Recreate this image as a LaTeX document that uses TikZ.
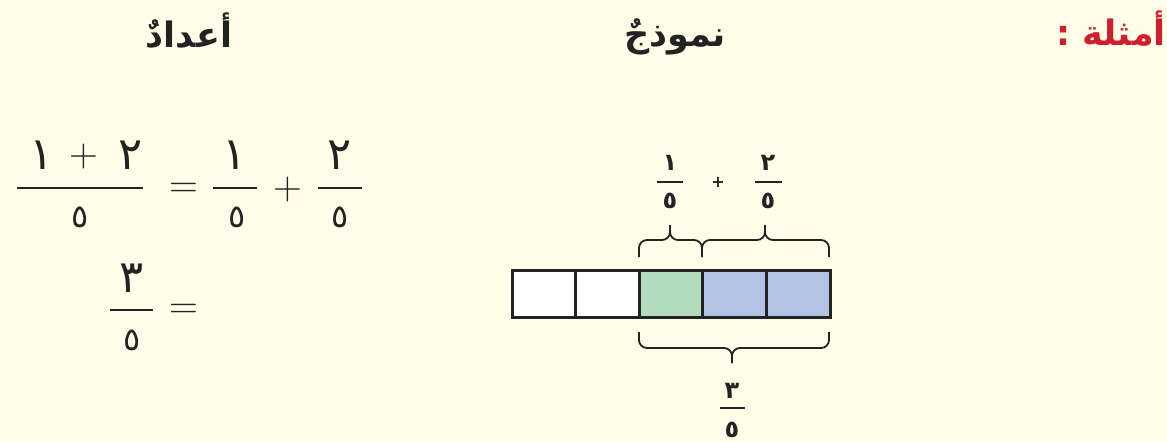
\documentclass[tikz,border=0pt]{standalone}
\usepackage{fontspec}
\newfontfamily\arabicfont[Script=Arabic]{DejaVu Sans}
\TeXXeTstate=1
\definecolor{bgc}{RGB}{255,253,232}
\definecolor{ink}{RGB}{35,35,35}
\definecolor{redh}{RGB}{208,30,45}
\definecolor{greenc}{RGB}{178,220,190}
\definecolor{bluec}{RGB}{180,194,230}
\begin{document}
\begin{tikzpicture}[x=1pt,y=-1pt,
  head/.style={font=\arabicfont\bfseries\fontsize{35}{38}\selectfont, inner sep=0, anchor=base, text=ink},
  bigd/.style={font=\arabicfont\fontsize{45}{50}\selectfont, inner sep=0, text=ink},
  bigf/.style={font=\arabicfont\fontsize{32}{36}\selectfont, inner sep=0, text=ink},
  smalld/.style={font=\arabicfont\bfseries\fontsize{24}{28}\selectfont, inner sep=0, text=ink},
  sym/.style={font=\fontsize{40}{44}\selectfont, inner sep=0, text=ink},
  ssym/.style={font=\arabicfont\bfseries\fontsize{16}{18}\selectfont, inner sep=0, text=ink},
  fbar/.style={draw=ink, line width=2.6pt},
  sbar/.style={draw=ink, line width=2.2pt},
  cell/.style={draw=ink, line width=3pt, minimum width=63.6pt, minimum height=47pt, inner sep=0},
  brace/.style={draw=ink, line width=1.8pt, rounded corners=8pt}
]
\useasboundingbox[fill=bgc] (0,0) rectangle (1167,442);

% headings
\node[head] (h1) at (189,47) {\beginR أعدادٌ\endR};
\node[head] (h2) at (675,46) {\beginR نموذجٌ\endR};
\node[head, anchor=base east, text=redh] (h3) at (1166,45) {\beginR أمثلة :\endR};

% equation line 1
\node[bigd] (n1a) at (42,155) {١};
\node[sym] (p1) at (84,157) {+};
\node[bigd] (n1b) at (131,155) {٢};
\draw[fbar] (17,188) -- (143,188);
\node[bigf] (d1) at (80,217) {٥};
\node[sym] (e1) at (184,190) {=};
\node[bigd] (n2) at (235,155) {١};
\draw[fbar] (213,188) -- (257,188);
\node[bigf] (d2) at (237,217) {٥};
\node[sym] (p2) at (288,190) {+};
\node[bigd] (n3) at (340,155) {٢};
\draw[fbar] (318,188) -- (362,188);
\node[bigf] (d3) at (340,217) {٥};

% equation line 2
\node[bigd] (n4) at (132,278) {٣};
\draw[fbar] (110,310) -- (153,310);
\node[bigf] (d4) at (132,340) {٥};
\node[sym] (e2) at (184,311) {=};

% model bar
\node[cell, fill=white] (c1) at (543.8,293.5) {};
\node[cell, fill=white] (c2) at (607.4,293.5) {};
\node[cell, fill=greenc] (c3) at (671.0,293.5) {};
\node[cell, fill=bluec] (c4) at (734.6,293.5) {};
\node[cell, fill=bluec] (c5) at (798.2,293.5) {};

% top braces
\draw[brace] (639,257) -- (639,240) -- (670,240) -- (670,225);
\draw[brace] (702,257) -- (702,240) -- (670,240) -- (670,225);
\draw[brace] (702,257) -- (702,240) -- (765,240) -- (765,225);
\draw[brace] (829,257) -- (829,240) -- (765,240) -- (765,225);

% bottom brace
\draw[brace] (639,332) -- (639,348) -- (732,348) -- (732,363);
\draw[brace] (829,332) -- (829,348) -- (732,348) -- (732,363);

% model fractions top
\node[smalld] (m1) at (670,163) {١};
\draw[sbar] (657,182) -- (683,182);
\node[smalld] (m2) at (670,201) {٥};
\node[ssym] (mp) at (718,182) {+};
\node[smalld] (m3) at (768,163) {٢};
\draw[sbar] (755,182) -- (782,182);
\node[smalld] (m4) at (768,201) {٥};

% model fraction bottom
\node[smalld] (m5) at (732,391) {٣};
\draw[sbar] (720,408) -- (745,408);
\node[smalld] (m6) at (732,430) {٥};
\end{tikzpicture}
\end{document}
